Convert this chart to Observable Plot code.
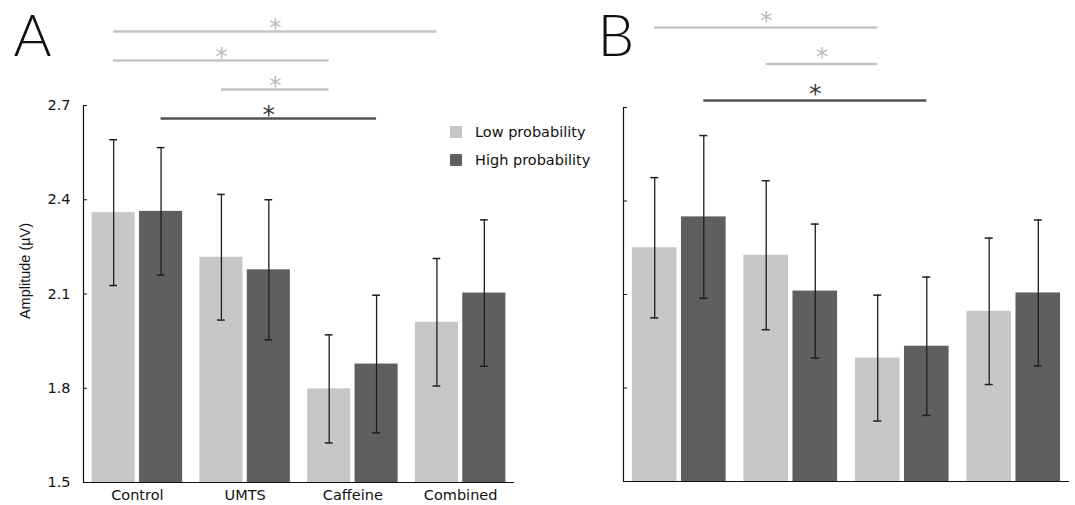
<!DOCTYPE html>
<html><head><meta charset="utf-8">
<script src="https://cdn.jsdelivr.net/npm/d3@7"></script>
<script src="https://cdn.jsdelivr.net/npm/@observablehq/plot@0.6"></script>
<style>
html,body{margin:0;padding:0;background:#fff;}
#wrap{position:relative;width:1075px;height:505px;overflow:hidden;font-family:"DejaVu Sans",sans-serif;}
#panelA{position:absolute;left:0;top:0;}
#panelB{position:absolute;left:540px;top:0;}
#legend{position:absolute;left:450px;top:118px;font-size:14.5px;color:#111;}
.row{display:flex;align-items:center;height:28px;}
.sw{width:12px;height:12px;margin-right:13px;}
</style></head><body>
<div id="wrap"><div id="panelA"></div><div id="panelB"></div><div id="legend"></div></div>
<script>
// ---- data ----
const groups = ["Control", "UMTS", "Caffeine", "Combined"];
const seriesNames = ["Low probability", "High probability"];
const yTicks = [1.5, 1.8, 2.1, 2.4, 2.7];
const yLabel = "Amplitude (µV)";
const panelLetters = ["A", "B"];
const starLabel = "*";

// Panel A: means and error half-widths
const lowMeanA  = [2.359, 2.217, 1.798, 2.010];
const lowErrA   = [0.232, 0.200, 0.172, 0.203];
const highMeanA = [2.363, 2.177, 1.877, 2.103];
const highErrA  = [0.203, 0.223, 0.219, 0.233];

// Panel B
const lowMeanB  = [2.250, 2.226, 1.896, 2.046];
const lowErrB   = [0.225, 0.239, 0.202, 0.235];
const highMeanB = [2.349, 2.111, 1.934, 2.105];
const highErrB  = [0.261, 0.215, 0.222, 0.234];

// significance comparisons (stack level 0 = lowest bracket)
const sigA = [
  {from: "Control", to: "Combined", series: "Low probability",  level: 3},
  {from: "Control", to: "Caffeine", series: "Low probability",  level: 2},
  {from: "UMTS",    to: "Caffeine", series: "Low probability",  level: 1},
  {from: "Control", to: "Caffeine", series: "High probability", level: 0}
];
const sigB = [
  {from: "Control", to: "Caffeine", series: "Low probability",  level: 2},
  {from: "UMTS",    to: "Caffeine", series: "Low probability",  level: 1},
  {from: "Control", to: "Caffeine", series: "High probability", level: 0}
];

// ---- styling ----
const LIGHT = "#c7c7c7";
const DARK = "#5f5f5f";
const SIG_LIGHT = "#c4c4c4";
const SIG_DARK = "#525252";
const OFF = 0.22, HW = 0.2, CAP = 0.036;

function rowsOf(low, lowErr, high, highErr) {
  return groups.flatMap((g, i) => [
    {group: g, series: seriesNames[0], mean: low[i], err: lowErr[i]},
    {group: g, series: seriesNames[1], mean: high[i], err: highErr[i]}
  ]);
}
const pos = (g, s) => groups.indexOf(g) + (s === seriesNames[0] ? -OFF : OFF);

function panel(o) {
  const rows = rowsOf(o.low, o.lowErr, o.high, o.highErr);
  const lowRows = rows.filter(d => d.series === seriesNames[0]);
  const highRows = rows.filter(d => d.series === seriesNames[1]);
  const ly = d => o.levelBase + d.level * o.levelStep;
  const sigLow = o.sig.filter(d => d.series === seriesNames[0]);
  const sigHigh = o.sig.filter(d => d.series === seriesNames[1]);
  const mid = d => (pos(d.from, d.series) + pos(d.to, d.series)) / 2;
  const marks = [
    Plot.rectY(lowRows, {x1: d => pos(d.group, d.series) - HW, x2: d => pos(d.group, d.series) + HW, y1: yTicks[0], y2: "mean", fill: LIGHT}),
    Plot.rectY(highRows, {x1: d => pos(d.group, d.series) - HW, x2: d => pos(d.group, d.series) + HW, y1: yTicks[0], y2: "mean", fill: DARK}),
    Plot.ruleX(rows, {x: d => pos(d.group, d.series), y1: d => d.mean - d.err, y2: d => d.mean + d.err, stroke: "#1e1e1e", strokeWidth: 1.3}),
    Plot.ruleY(rows, {y: d => d.mean + d.err, x1: d => pos(d.group, d.series) - CAP, x2: d => pos(d.group, d.series) + CAP, stroke: "#1e1e1e", strokeWidth: 1.5}),
    Plot.ruleY(rows, {y: d => d.mean - d.err, x1: d => pos(d.group, d.series) - CAP, x2: d => pos(d.group, d.series) + CAP, stroke: "#1e1e1e", strokeWidth: 1.5}),
    Plot.ruleX([-0.5], {y1: yTicks[0], y2: yTicks[yTicks.length - 1], stroke: "#111", strokeWidth: 1.2}),
    Plot.ruleY([yTicks[0]], {x1: -0.5, x2: 3.5, stroke: "#111", strokeWidth: 1.2}),
    Plot.axisY({ticks: yTicks, tickSize: -4, tickPadding: 17, label: null, stroke: "#111", color: "#111",
                tickFormat: o.showLabels ? (d => d.toFixed(1)) : (() => "")}),
    Plot.ruleY(sigLow, {y: ly, x1: d => pos(d.from, d.series), x2: d => pos(d.to, d.series), stroke: SIG_LIGHT, strokeWidth: 2.5}),
    Plot.ruleY(sigHigh, {y: ly, x1: d => pos(d.from, d.series), x2: d => pos(d.to, d.series), stroke: SIG_DARK, strokeWidth: 2.5}),
    Plot.text(sigLow, {x: mid, y: ly, text: () => starLabel, dy: o.starDy, fill: "#bdbdbd", fontSize: 25, fontFamily: "DejaVu Sans"}),
    Plot.text(sigHigh, {x: mid, y: ly, text: () => starLabel, dy: o.starDy, fill: "#3c3c3c", fontSize: 25, fontFamily: "DejaVu Sans"}),
    Plot.text([o.letter], {text: d => d, frameAnchor: "top-left", textAnchor: "start", lineAnchor: "top",
               dx: o.letterDx, dy: o.letterDy, fontSize: 58, fontFamily: "Lato", fontWeight: 300, fill: "#111"})
  ];
  if (o.showLabels) {
    marks.push(Plot.axisX({ticks: [0, 1, 2, 3], tickFormat: i => groups[i], tickSize: 0, tickPadding: 7, label: null, color: "#111"}));
    marks.push(Plot.text([yLabel], {text: d => d, frameAnchor: "left", textAnchor: "middle", rotate: -90, dx: -58, dy: -23,
               fontSize: 14.5, fontFamily: "Liberation Sans", fill: "#111"}));
  }
  return Plot.plot({
    width: o.width, height: 505,
    marginLeft: o.marginLeft, marginRight: o.marginRight, marginTop: o.marginTop, marginBottom: o.marginBottom,
    x: {domain: [-0.5, 3.5], axis: o.showLabels ? undefined : null},
    y: {domain: [yTicks[0], yTicks[yTicks.length - 1]]},
    style: {fontFamily: "DejaVu Sans", fontSize: "14.5px", color: "#111", background: "transparent", overflow: "visible"},
    marks
  });
}

document.getElementById("panelA").append(panel({
  width: 540, marginLeft: 83, marginRight: 26, marginTop: 105, marginBottom: 23,
  low: lowMeanA, lowErr: lowErrA, high: highMeanA, highErr: highErrA, sig: sigA,
  showLabels: true, letter: panelLetters[0], letterDx: -70, letterDy: -91,
  levelBase: 2.6586, levelStep: 0.0923, starDy: -3.5
}));
document.getElementById("panelB").append(panel({
  width: 535, marginLeft: 83, marginRight: 6, marginTop: 107, marginBottom: 24,
  low: lowMeanB, lowErr: lowErrB, high: highMeanB, highErr: highErrB, sig: sigB,
  showLabels: false, letter: panelLetters[1], letterDx: -26, letterDy: -93,
  levelBase: 2.7225, levelStep: 0.1171, starDy: -6.5
}));

// legend
const legend = document.getElementById("legend");
[LIGHT, DARK].forEach((c, i) => {
  const row = document.createElement("div");
  row.className = "row";
  const sw = document.createElement("div");
  sw.className = "sw";
  sw.style.background = c;
  const t = document.createElement("span");
  t.textContent = seriesNames[i];
  row.append(sw, t);
  legend.append(row);
});
</script>
</body></html>
